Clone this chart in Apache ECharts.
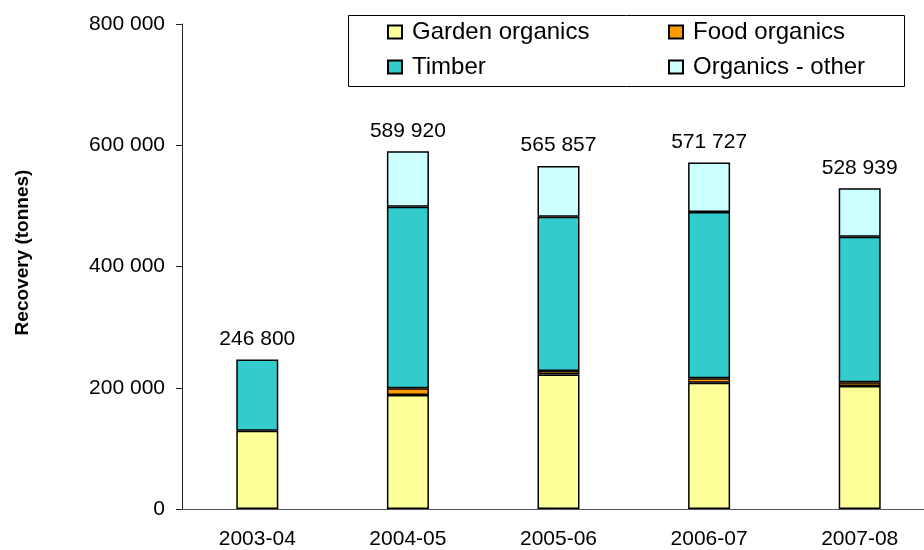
<!DOCTYPE html>
<html>
<head>
<meta charset="utf-8">
<script src="https://cdn.jsdelivr.net/npm/echarts@6/dist/echarts.min.js"></script>
<style>html,body{margin:0;padding:0;background:#fff;overflow:hidden}#c{width:936px;height:550px}</style>
</head>
<body>
<div id="c"></div>
<script>
const categories = ['2003-04', '2004-05', '2005-06', '2006-07', '2007-08'];
const gardenOrganics = [129000, 188000, 222000, 208300, 202800];
const foodOrganics = [null, 11000, 5500, 7200, 6100];
const timber = [117800, 299500, 254500, 274300, 240200];
const organicsOther = [null, 91420, 83857, 81927, 79839];
const totals = [246800, 589920, 565857, 571727, 528939];
const yTicks = { min: 0, max: 800000, interval: 200000 };

const fmt = v => String(v).replace(/\B(?=(\d{3})+(?!\d))/g, ' ');
const FONT = 'Liberation Sans, Arial, sans-serif';
const border = { borderColor: '#000', borderWidth: 1.5 };

const chart = echarts.init(document.getElementById('c'), null, { renderer: 'canvas' });

function mkLegend(name, left, top) {
  return {
    data: [name], left: left, top: top, orient: 'horizontal',
    icon: 'rect', itemWidth: 14, itemHeight: 13, itemGap: 0,
    textStyle: { fontFamily: FONT, fontSize: 24, color: '#000', padding: [0, 0, 0, 5] },
    padding: 0, selectedMode: false
  };
}

chart.setOption({
  animation: false,
  backgroundColor: '#fff',
  grid: { left: 182, top: 24, bottom: 41, right: 1, containLabel: false },
  graphic: [{
    type: 'rect', left: 348, top: 15, shape: { width: 556, height: 71 },
    style: { fill: '#fff', stroke: '#000', lineWidth: 1 }, z: 0
  }],
  legend: [
    mkLegend('Garden organics', 387, 20),
    mkLegend('Food organics', 668, 20),
    mkLegend('Timber', 387, 55),
    mkLegend('Organics - other', 668, 55)
  ],
  xAxis: {
    type: 'category', data: categories,
    axisLine: { lineStyle: { color: '#555', width: 1 } },
    axisTick: { show: false },
    axisLabel: { fontFamily: FONT, fontSize: 21, color: '#000', margin: 20 }
  },
  yAxis: {
    type: 'value', min: yTicks.min, max: yTicks.max, interval: yTicks.interval,
    name: 'Recovery (tonnes)', nameLocation: 'middle', nameGap: 150, nameRotate: 90,
    nameTextStyle: { fontFamily: FONT, fontSize: 19, fontWeight: 'bold', color: '#000', padding: [0, 0, 0, 28] },
    axisLine: { show: true, lineStyle: { color: '#222', width: 1 } },
    axisTick: { show: true, length: 6, lineStyle: { color: '#222' } },
    splitLine: { show: false },
    axisLabel: { fontFamily: FONT, fontSize: 21, color: '#000', margin: 17, formatter: fmt }
  },
  series: [
    { name: 'Garden organics', type: 'bar', stack: 's', data: gardenOrganics, barWidth: 42,
      itemStyle: Object.assign({ color: '#FFFF99' }, border) },
    { name: 'Food organics', type: 'bar', stack: 's', data: foodOrganics, barWidth: 42,
      itemStyle: Object.assign({ color: '#FF9900' }, border) },
    { name: 'Timber', type: 'bar', stack: 's', data: timber, barWidth: 42,
      itemStyle: Object.assign({ color: '#33CCCC' }, border) },
    { name: 'Organics - other', type: 'bar', stack: 's', data: organicsOther, barWidth: 42,
      itemStyle: Object.assign({ color: '#CCFFFF' }, border) },
    { name: 'Total', type: 'scatter', data: totals, symbolSize: 0, silent: true,
      itemStyle: { opacity: 1 },
      label: { show: true, position: 'top', distance: 10, fontFamily: FONT, fontSize: 21, color: '#000',
        formatter: p => fmt(totals[p.dataIndex]) } }
  ]
});
</script>
</body>
</html>
